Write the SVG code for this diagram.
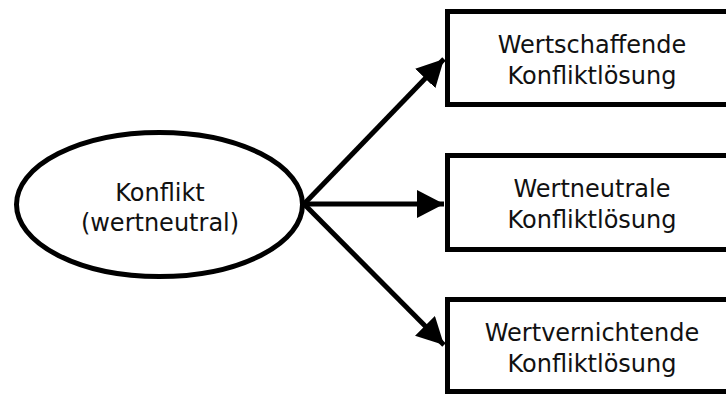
<svg xmlns="http://www.w3.org/2000/svg" width="726" height="395" viewBox="0 0 726 395">
<style>
.shape{fill:#fff;stroke:#000;stroke-width:5}
.lbl{font-family:"DejaVu Sans",Verdana,sans-serif;font-size:24px;fill:#111;text-anchor:middle}
.conn{stroke:#000;stroke-width:5;fill:none}
</style>
<defs>
<marker id="ah" markerUnits="userSpaceOnUse" markerWidth="30" markerHeight="30" refX="27" refY="14" orient="auto">
<path d="M0,0 L27,14 L0,28 Z" fill="#000"/>
</marker>
</defs>
<rect width="726" height="395" fill="#fff"/>
<g id="connectors">
<line class="conn" x1="304" y1="204" x2="444" y2="59" marker-end="url(#ah)"/>
<line class="conn" x1="304" y1="204" x2="444" y2="204" marker-end="url(#ah)"/>
<line class="conn" x1="304" y1="204" x2="444" y2="345" marker-end="url(#ah)"/>
</g>
<g id="konflikt">
<ellipse class="shape" cx="159.5" cy="204.5" rx="143" ry="72"/>
<text class="lbl" x="160" y="201">Konflikt</text>
<text class="lbl" x="160" y="231">(wertneutral)</text>
</g>
<g id="wertschaffend">
<rect class="shape" x="447.5" y="11.5" width="290" height="93"/>
<text class="lbl" x="592" y="52.5">Wertschaffende</text>
<text class="lbl" x="592" y="83.5">Konfliktlösung</text>
</g>
<g id="wertneutral">
<rect class="shape" x="447.5" y="155.5" width="290" height="94"/>
<text class="lbl" x="592" y="196.5">Wertneutrale</text>
<text class="lbl" x="592" y="227.5">Konfliktlösung</text>
</g>
<g id="wertvernichtend">
<rect class="shape" x="447.5" y="299.5" width="290" height="92"/>
<text class="lbl" x="592" y="340.5">Wertvernichtende</text>
<text class="lbl" x="592" y="371.5">Konfliktlösung</text>
</g>
</svg>
